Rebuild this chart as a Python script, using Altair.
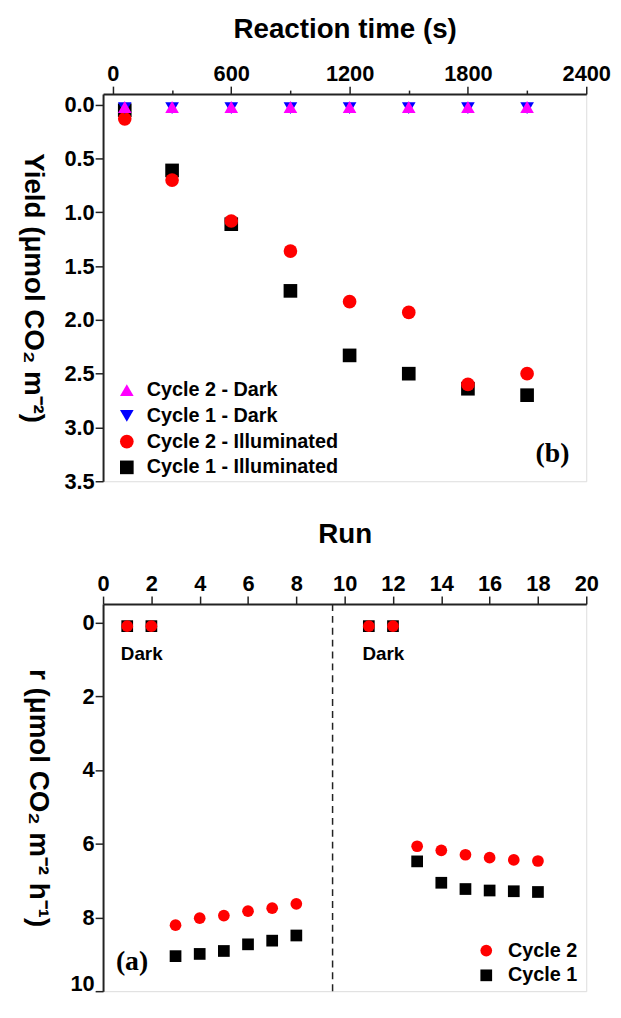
import altair as alt
import pandas as pd

# ---------------- Panel (b): Yield vs reaction time ----------------
time_s = [60, 300, 600, 900, 1200, 1500, 1800, 2100]
yield_c1_illum = [0.05, 0.61, 1.11, 1.73, 2.33, 2.50, 2.64, 2.70]
yield_c2_illum = [0.13, 0.70, 1.08, 1.36, 1.83, 1.93, 2.60, 2.50]
yield_c1_dark = [0.03, 0.03, 0.03, 0.03, 0.03, 0.03, 0.03, 0.03]
yield_c2_dark = [0.02, 0.02, 0.02, 0.02, 0.02, 0.02, 0.02, 0.02]
series_b = ["Cycle 1 - Illuminated", "Cycle 2 - Illuminated", "Cycle 1 - Dark", "Cycle 2 - Dark"]
legend_order_b = ["Cycle 2 - Dark", "Cycle 1 - Dark", "Cycle 2 - Illuminated", "Cycle 1 - Illuminated"]
colors_b = ["#ff00ff", "#0000ff", "#ff0000", "#000000"]
shapes_b = ["triangle-up", "triangle-down", "circle", "square"]
sizes_b = [190, 190, 130, 130]

# ---------------- Panel (a): rate vs run ----------------
runs = [1, 2, 3, 4, 5, 6, 7, 8, 11, 12, 13, 14, 15, 16, 17, 18]
rate_c1 = [0.1, 0.1, 9.05, 8.99, 8.91, 8.73, 8.63, 8.49, 0.1, 0.1, 6.48, 7.06, 7.23, 7.27, 7.29, 7.31]
rate_c2 = [0.1, 0.1, 8.21, 8.02, 7.95, 7.83, 7.75, 7.63, 0.1, 0.1, 6.07, 6.18, 6.30, 6.38, 6.44, 6.47]
series_a = ["Cycle 1", "Cycle 2"]
legend_order_a = ["Cycle 2", "Cycle 1"]
colors_a = ["#ff0000", "#000000"]
shapes_a = ["circle", "square"]
divider_run = [9.5]
dark_label_runs = [1.6, 11.6]
dark_label_y = [0.85, 0.85]

FONT = "Liberation Sans, Arial, sans-serif"
SERIF = "Liberation Serif, Times New Roman, serif"

rows_b = []
for k, (s, vals) in enumerate(zip(series_b, [yield_c1_illum, yield_c2_illum, yield_c1_dark, yield_c2_dark])):
    for t, v in zip(time_s, vals):
        rows_b.append({"time": t, "yield": v, "series": s, "draw": k})
df_b = pd.DataFrame(rows_b)

rows_a = []
for k, (s, vals) in enumerate(zip(series_a, [rate_c1, rate_c2])):
    for r, v in zip(runs, vals):
        rows_a.append({"run": r, "rate": v, "series": s, "draw": k})
df_a = pd.DataFrame(rows_a)

axis_style = dict(
    domainColor="#222", domainWidth=2, tickColor="#222", tickWidth=1.5,
    labelFont=FONT, labelFontWeight="bold", labelFontSize=22, labelColor="black",
    titleFont=FONT, titleFontWeight="bold", titleFontSize=28, titleColor="black",
    grid=False, labelOverlap=False, labelFlush=False, labelPadding=1,
)

def minor_ticks(test):
    return {"condition": {"test": test, "value": 8}, "value": 4}

xaxis_b = alt.Axis(
    orient="top", values=list(range(0, 2401, 300)), title="Reaction time (s)",
    labelExpr="datum.value % 600 === 0 ? datum.label : ''",
    tickSize=minor_ticks("datum.value % 600 === 0"), titlePadding=19, format="d", **axis_style)
yaxis_b = alt.Axis(
    orient="left", values=[i * 0.25 for i in range(15)], title="Yield (μmol CO₂ m⁻²)",
    labelExpr="datum.value % 0.5 === 0 ? datum.label : ''", format=".1f",
    tickSize=minor_ticks("datum.value % 0.5 === 0"), titleAngle=90, titleBaseline="top",
    titlePadding=18, **axis_style)

leg_style = dict(
    title=None, labelFont=FONT, labelFontWeight="bold", labelColor="black",
    symbolStrokeWidth=0, padding=0, orient="none", labelLimit=0,
)

xs_b = alt.Scale(domain=[-50, 2400], nice=False, zero=False)
ys_b = alt.Scale(domain=[-0.1, 3.5], reverse=True, nice=False, zero=False)

leg_b = alt.Legend(legendX=14, legendY=289, labelFontSize=20, symbolSize=150, rowPadding=6, labelOffset=10, **leg_style)
points_b = alt.Chart(df_b).mark_point(filled=True, opacity=1).encode(
    x=alt.X("time:Q", scale=xs_b, axis=xaxis_b),
    y=alt.Y("yield:Q", scale=ys_b, axis=yaxis_b),
    color=alt.Color("series:N", scale=alt.Scale(domain=legend_order_b, range=colors_b), legend=leg_b),
    shape=alt.Shape("series:N", scale=alt.Scale(domain=legend_order_b, range=shapes_b), legend=leg_b),
    size=alt.Size("series:N", scale=alt.Scale(domain=legend_order_b, range=sizes_b), legend=None),
    order=alt.Order("draw:Q"),
)
label_b = alt.Chart(pd.DataFrame({"time": [2229], "yield": [3.25], "txt": ["(b)"]})).mark_text(
    font=SERIF, fontWeight="bold", fontSize=28, color="black").encode(
    x=alt.X("time:Q", scale=xs_b), y=alt.Y("yield:Q", scale=ys_b), text="txt:N")
chart_b = alt.layer(points_b, label_b).properties(width=488, height=391)

xaxis_a = alt.Axis(
    orient="top", values=list(range(0, 21)), title="Run",
    labelExpr="datum.value % 2 === 0 ? datum.label : ''", format="d",
    tickSize=minor_ticks("datum.value % 2 === 0"), titlePadding=24, **axis_style)
yaxis_a = alt.Axis(
    orient="left", values=list(range(0, 11)), title="r (μmol CO₂ m⁻² h⁻¹)",
    labelExpr="datum.value % 2 === 0 ? datum.label : ''", format="d",
    labelBaseline={"condition": {"test": "datum.value === 10", "value": "bottom"}, "value": "middle"},
    labelOffset={"condition": {"test": "datum.value === 10", "value": 4}, "value": 0},
    tickSize=minor_ticks("datum.value % 2 === 0"), titleAngle=90, titleBaseline="top",
    titlePadding=19, **axis_style)

xs_a = alt.Scale(domain=[0, 20], nice=False)
ys_a = alt.Scale(domain=[-0.5, 10], reverse=True, nice=False, zero=False)

leg_a = alt.Legend(legendX=377, legendY=340, labelFontSize=20, symbolSize=140, rowPadding=5, labelOffset=12, **leg_style)
points_a = alt.Chart(df_a).mark_point(filled=True, size=140, opacity=1).encode(
    x=alt.X("run:Q", scale=xs_a, axis=xaxis_a),
    y=alt.Y("rate:Q", scale=ys_a, axis=yaxis_a),
    color=alt.Color("series:N", scale=alt.Scale(domain=legend_order_a, range=colors_a), legend=leg_a),
    shape=alt.Shape("series:N", scale=alt.Scale(domain=legend_order_a, range=shapes_a), legend=leg_a),
    order=alt.Order("draw:Q"),
)
rule_a = alt.Chart(pd.DataFrame({"run": divider_run})).mark_rule(
    color="#222", strokeWidth=1.5, strokeDash=[7, 5]).encode(x=alt.X("run:Q", scale=xs_a))
dark_a = alt.Chart(pd.DataFrame({"run": dark_label_runs, "rate": dark_label_y, "txt": ["Dark", "Dark"]})).mark_text(
    font=FONT, fontWeight="bold", fontSize=19, color="black").encode(
    x=alt.X("run:Q", scale=xs_a), y=alt.Y("rate:Q", scale=ys_a), text="txt:N")
label_a = alt.Chart(pd.DataFrame({"run": [1.2], "rate": [9.2], "txt": ["(a)"]})).mark_text(
    font=SERIF, fontWeight="bold", fontSize=28, color="black").encode(
    x=alt.X("run:Q", scale=xs_a), y=alt.Y("rate:Q", scale=ys_a), text="txt:N")
chart_a = alt.layer(rule_a, points_a, dark_a, label_a).properties(width=488, height=391)

chart = alt.vconcat(chart_b, chart_a, spacing=124, bounds="flush").resolve_scale(
    color="independent", shape="independent", size="independent"
).properties(padding={"left": 9, "top": 2, "right": 2, "bottom": 0}).configure_view(
    stroke="#222", strokeWidth=2
).configure(background="white")

chart.save("out.html", embed_options={"renderer": "svg", "actions": False})
